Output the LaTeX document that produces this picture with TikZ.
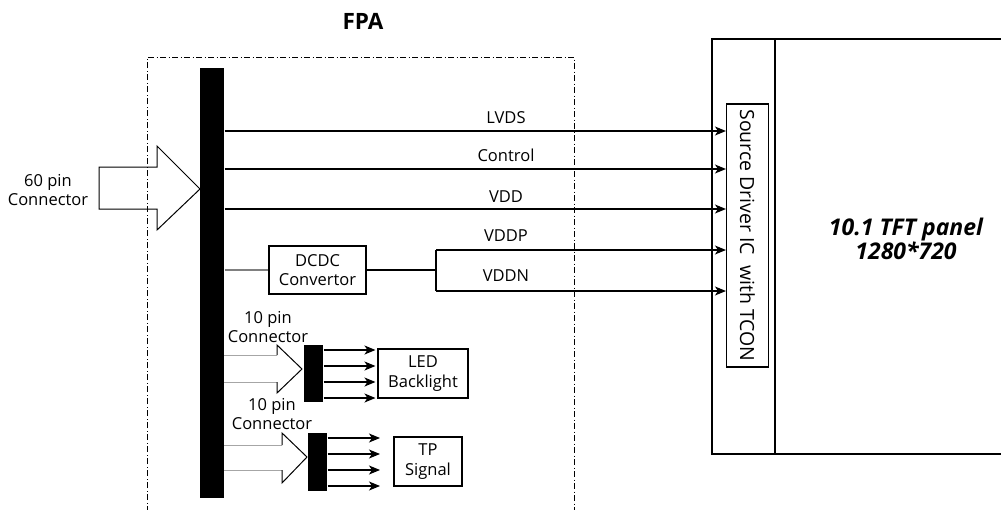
\documentclass[tikz,border=0pt]{standalone}
\usepackage{fontspec}
\usepackage{graphicx}
\setmainfont{Open Sans}
\usetikzlibrary{arrows.meta}
\begin{document}
\begin{tikzpicture}[x=1pt,y=-1pt,line width=1.1pt,
  txt/.style={font=\fontsize{16.5}{19.5}\selectfont,align=center,inner sep=0pt},
  box/.style={draw,line width=1.1pt,align=center,font=\fontsize{16.5}{19.5}\selectfont,inner sep=0pt},
  bar/.style={fill=black,inner sep=0pt},
  sig/.style={-{Stealth[length=11pt,width=9pt,inset=3pt]}},
  hollow/.style={draw,line width=1pt,line join=miter},
  frame/.style={line width=0.9pt,dash pattern=on 6pt off 2.5pt on 1pt off 2.5pt},
  thick frame/.style={line width=2pt}]
\useasboundingbox (0,0) rectangle (1001,509);

% FPA board outline (open towards the bottom)
\draw[frame] (147,512) -- (147,57) -- (574,57) -- (574,512);
\node[font=\fontsize{22.5}{26}\selectfont\bfseries] (fpa) at (363,21) {FPA};

% 60 pin input connector
\draw[hollow] (99,167) -- (157,167) -- (157,146) -- (200,189) -- (157,230) -- (157,209) -- (99,209) -- cycle;
\node[txt] (c60) at (48,190) {60 pin\\Connector};

% 10 pin connectors
\draw[hollow,gray!70] (224,355) -- (277,355);
\draw[hollow,gray!70] (224,382) -- (277,382);
\draw[hollow] (277,355) -- (277,345) -- (302,369) -- (277,393) -- (277,382);
\draw[hollow,gray!70] (224,445) -- (282,445);
\draw[hollow,gray!70] (224,470) -- (282,470);
\draw[hollow] (282,445) -- (282,433) -- (307,457) -- (282,483) -- (282,470);
\node[txt] (c10a) at (268,327) {10 pin\\Connector};
\node[txt] (c10b) at (272,414) {10 pin\\Connector};

% main bus
\node[bar,minimum width=24,minimum height=430] (bus) at (212,283) {};

% display panel
\draw[thick frame] (1004,39) -- (712,39) -- (712,454) -- (1004,454);
\draw[thick frame] (775,39) -- (775,454);
\node[font=\fontsize{23}{24}\selectfont\bfseries\itshape,align=center,inner sep=0pt] (panel) at (906,239) {10.1 TFT panel\\1280*720};
\node[box,minimum width=42,minimum height=263,font=\fontsize{19.5}{22}\selectfont] (sd) at (747.5,235.5)
  {\rotatebox{-90}{Source Driver IC\ \ with TCON}};

% signals to the source driver
\draw[sig] (bus.east |- 0,131) -- (sd.west |- 0,131);
\draw[sig] (bus.east |- 0,169) -- (sd.west |- 0,169);
\draw[sig] (bus.east |- 0,209) -- (sd.west |- 0,209);
\node[txt] (lvds) at (506,118) {LVDS};
\node[txt] (ctrl) at (506,155) {Control};
\node[txt] (vdd) at (506,197) {VDD};

% DC/DC converter
\node[box,minimum width=97,minimum height=48] (dcdc) at (317.5,270) {DCDC\\Convertor};
\draw[gray] (bus.east |- dcdc) -- (dcdc.west);
\coordinate (split) at (436,270);
\draw (dcdc.east) -- (split);
\draw (split |- 0,250) -- (split |- 0,291);
\draw[sig] (split |- 0,250) -- (sd.west |- 0,250);
\draw[sig] (split |- 0,291) -- (sd.west |- 0,291);
\node[txt] (vddp) at (506,236) {VDDP};
\node[txt] (vddn) at (506,276) {VDDN};

% LED backlight branch
\node[bar,minimum width=19,minimum height=57] (b1) at (313.5,373.5) {};
\node[box,minimum width=90,minimum height=49] (led) at (423,373.5) {LED\\Backlight};
\foreach \yy in {350,366,382,398}
  \draw[sig] (b1.east |- 0,\yy) -- ([xshift=-2pt]led.west |- 0,\yy);

% touch panel branch
\node[bar,minimum width=19,minimum height=58] (b2) at (317.5,462) {};
\node[box,minimum width=68,minimum height=49] (tp) at (428,461.5) {TP\\Signal};
\coordinate (tpend) at (380,0);
\foreach \yy in {438,454,470,486}
  \draw[sig] (b2.east |- 0,\yy) -- (tpend |- 0,\yy);
\end{tikzpicture}
\end{document}
